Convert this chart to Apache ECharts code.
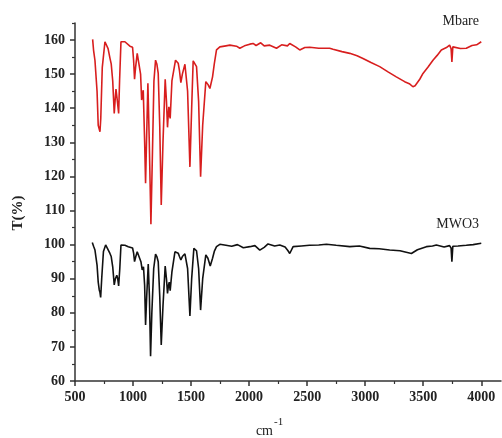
<!DOCTYPE html>
<html>
<head>
<meta charset="utf-8">
<script src="https://cdn.jsdelivr.net/npm/echarts@6/dist/echarts.min.js"></script>
<style>html,body{margin:0;padding:0;background:#fff}#c{width:502px;height:438px}</style>
</head>
<body>
<div id="c"></div>
<script>
// Wavenumbers (cm-1) and transmittance for the two spectra
const redWn = [652,660,672,690,700,708,715,722,735,758,770,785,801,812,825,838,845,853,862,876,884,896,930,973,996,1005,1013,1022,1036,1053,1065,1074,1080,1088,1100,1108,1116,1128,1140,1154,1166,1180,1194,1205,1217,1230,1243,1258,1277,1288,1297,1303,1309,1315,1320,1335,1366,1389,1400,1412,1425,1447,1470,1490,1505,1518,1547,1565,1582,1600,1627,1645,1662,1685,1700,1719,1748,1800,1834,1891,1920,1960,2006,2034,2060,2100,2130,2178,2236,2280,2330,2350,2400,2436,2451,2480,2522,2600,2694,2723,2800,2867,2930,2981,3050,3125,3200,3268,3340,3380,3411,3430,3441,3470,3498,3540,3584,3620,3656,3700,3727,3740,3747,3755,3770,3820,3871,3920,3960,4000];
const redT = [160.2,157,154,145,135,134.5,133.1,137,152,159.5,159,157.5,154.7,153,148,138.5,142,145.6,143,138.5,148,159.5,159.5,158.2,157.9,154,148.5,152,156.1,155.6,150,142.4,144,145.3,130,118,130,147.3,130,106,125,148,154.1,153,150.2,135,111.6,130,148.5,142,134.4,138,140.4,138,137,148,154.1,153.2,151,147.5,150,152.9,145,122.8,140,153.9,152.2,142,119.9,135,147.8,147,145.8,149.2,153,157.1,158,158.3,158.5,158.2,157.6,158.3,158.8,159,158.4,159.2,158.3,158.5,157.6,158.6,158.3,159,158,157.1,156.6,157.8,157.9,157.6,157.6,157.3,156.6,156.1,155.4,154.6,153.4,152.2,150.6,149.2,147.8,147.2,146.3,146.6,146.8,148.5,150.2,152,154.1,155.5,157.1,157.8,158.5,157.5,153.6,158,158.5,157.5,157.6,158.4,158.6,159.5];

const blackWn = [649,660,672,690,700,709,715,721,730,745,764,780,801,812,825,838,848,860,868,876,886,896,930,959,996,1005,1013,1024,1036,1053,1068,1079,1090,1100,1108,1118,1131,1141,1151,1162,1178,1194,1205,1217,1230,1243,1258,1277,1288,1297,1305,1312,1320,1335,1361,1389,1400,1412,1425,1447,1470,1490,1505,1524,1547,1565,1582,1600,1627,1645,1665,1685,1700,1719,1748,1800,1850,1900,1950,2006,2050,2092,2130,2163,2220,2264,2310,2335,2350,2379,2450,2520,2600,2666,2750,2867,2950,3039,3120,3211,3300,3398,3450,3527,3580,3613,3680,3727,3740,3747,3755,3800,3871,3930,4000];
const blackT = [100.6,99.5,98.4,94,89,86.7,86,84.5,90,98,99.9,99.5,97.4,96.5,93.5,88.2,90,91,90,87.9,93,99.9,99.8,99.4,99,97.5,95,96.5,97.9,97.5,95,92.6,93.5,88,76.4,85,94.3,85,67.3,80,93,97.2,96.5,95,85,70.6,82,93.7,90,85.7,88,89,86.5,92,97.9,97.5,96.5,95.5,96.5,97.3,93,79.1,90,98.9,98.2,93,80.8,90,97,96,93.7,96,98,99.4,100.1,99.8,99.5,100,99.1,99.4,99.7,98.4,99.2,100.2,99.6,99.9,99.3,98.2,97.4,99.4,99.6,99.8,99.9,100.1,99.8,99.4,99.6,98.9,98.8,98.4,98.2,97.4,98.5,99.4,99.6,99.9,99.3,99.7,99,95,99.5,99.6,99.8,100,100.4];

const xMajor = [500,1000,1500,2000,2500,3000,3500,4000];
const xMinor = [750,1250,1750,2250,2750,3250,3750];
const yMajor = [60,70,80,90,100,110,120,130,140,150,160];
const yMinor = [65,75,85,95,105,115,125,135,145,155,165];

const seriesNames = ['Mbare','MWO3'];
const xTitle = 'cm';
const xTitleSup = '-1';
const yTitle = 'T(%)';

const zip = (a, b) => a.map((v, i) => [v, b[i]]);
const FONT = 'Liberation Serif';
const AX = '#333';
const plain = v => String(v);

const chart = echarts.init(document.getElementById('c'), null, {renderer: 'canvas'});
const xBase = {type: 'value', min: 500, max: 4170, gridIndex: 0, position: 'bottom', splitLine: {show: false}};
const yBase = {type: 'value', min: 60, max: 165, gridIndex: 0, position: 'left', splitLine: {show: false}};
chart.setOption({
  animation: false,
  grid: {left: 75, right: 1, top: 23, bottom: 57, containLabel: false},
  xAxis: [
    Object.assign({}, xBase, {
      axisLine: {show: true, lineStyle: {color: AX, width: 1.5}},
      axisTick: {show: true, inside: false, length: 5, customValues: xMajor, lineStyle: {color: AX, width: 1.5}},
      axisLabel: {show: true, customValues: xMajor, formatter: plain, margin: 9, fontFamily: FONT, fontWeight: 'bold', fontSize: 14, color: '#222'}
    }),
    Object.assign({}, xBase, {
      axisLine: {show: false},
      axisTick: {show: true, inside: false, length: 3, customValues: xMinor, lineStyle: {color: AX, width: 1.2}},
      axisLabel: {show: false}
    })
  ],
  yAxis: [
    Object.assign({}, yBase, {
      axisLine: {show: true, lineStyle: {color: AX, width: 1.5}},
      axisTick: {show: true, inside: false, length: 5, customValues: yMajor, lineStyle: {color: AX, width: 1.5}},
      axisLabel: {show: true, customValues: yMajor, formatter: plain, margin: 10, fontFamily: FONT, fontWeight: 'bold', fontSize: 14, color: '#222'}
    }),
    Object.assign({}, yBase, {
      axisLine: {show: false},
      axisTick: {show: true, inside: false, length: 3, customValues: yMinor, lineStyle: {color: AX, width: 1.2}},
      axisLabel: {show: false}
    })
  ],
  series: [
    {name: seriesNames[0], type: 'line', xAxisIndex: 0, yAxisIndex: 0, data: zip(redWn, redT), showSymbol: false, symbol: 'none', smooth: false,
     lineStyle: {color: '#d81e1e', width: 1.6}},
    {name: seriesNames[1], type: 'line', xAxisIndex: 0, yAxisIndex: 0, data: zip(blackWn, blackT), showSymbol: false, symbol: 'none', smooth: false,
     lineStyle: {color: '#111111', width: 1.6}}
  ],
  graphic: [
    {type: 'text', x: 18, y: 213, rotation: Math.PI / 2, style: {text: yTitle, fontFamily: FONT, fontWeight: 'bold', fontSize: 15, fill: '#222', align: 'center', verticalAlign: 'middle'}},
    {type: 'text', x: 273, y: 431, style: {text: xTitle, fontFamily: FONT, fontSize: 14, fill: '#222', align: 'right', verticalAlign: 'middle'}},
    {type: 'text', x: 274, y: 422, style: {text: xTitleSup, fontFamily: FONT, fontSize: 11, fill: '#222', align: 'left', verticalAlign: 'middle'}},
    {type: 'text', x: 479, y: 21, style: {text: seriesNames[0], fontFamily: FONT, fontSize: 14, fill: '#222', align: 'right', verticalAlign: 'middle'}},
    {type: 'text', x: 479, y: 224, style: {text: seriesNames[1], fontFamily: FONT, fontSize: 14, fill: '#222', align: 'right', verticalAlign: 'middle'}}
  ]
});
</script>
</body>
</html>
